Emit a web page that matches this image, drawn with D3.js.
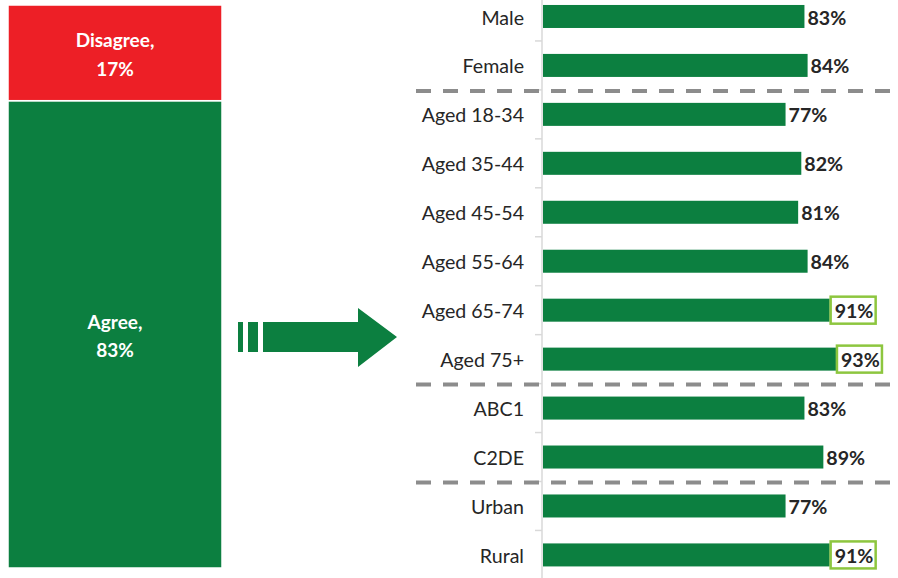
<!DOCTYPE html>
<html>
<head>
<meta charset="utf-8">
<script src="https://cdn.jsdelivr.net/npm/d3@7"></script>
<style>
  html, body { margin: 0; padding: 0; background: #fff; }
  svg { display: block; font-family: Lato, "Open Sans", sans-serif; }
</style>
</head>
<body>
<svg id="chart" width="898" height="578"></svg>
<script>
// datos del total
var totalLabels = ["Agree", "Disagree"];
var totalValues = [83, 17];

// datos por grupo
var categories = ["Male", "Female", "Aged 18-34", "Aged 35-44", "Aged 45-54", "Aged 55-64",
                  "Aged 65-74", "Aged 75+", "ABC1", "C2DE", "Urban", "Rural"];
var values = [83, 84, 77, 82, 81, 84, 91, 93, 83, 89, 77, 91];
var highlighted = ["Aged 65-74", "Aged 75+", "Rural"];
var groupEnds = ["Female", "Aged 75+", "C2DE"];   // separadores discontinuos debajo

var GREEN = "#0c7f40", RED = "#ed1f26", LIGHTGREEN = "#8dc63f";

var svg = d3.select("#chart");

/* BARRA APILADA IZQUIERDA */
var yTot = d3.scaleLinear().domain([0, 100]).range([568, 5]);
var stack = [];
var acc = 0;
totalValues.forEach(function(v, i) {
    stack.push({ label: totalLabels[i], y0: acc, y1: acc + v, v: v });
    acc += v;
});

var tot = svg.append("g").attr("class", "total");
tot.selectAll("rect")
    .data(stack)
    .enter()
    .append("rect")
    .attr("x", 8)
    .attr("width", 214)
    .attr("y", function(d) { return yTot(d.y1); })
    .attr("height", function(d) { return yTot(d.y0) - yTot(d.y1); })
    .style("fill", function(d, i) { return i == 0 ? GREEN : RED; })
    .style("stroke", "#fff")
    .style("stroke-width", 1.5);

var totText = tot.selectAll("text")
    .data(stack)
    .enter()
    .append("text")
    .attr("x", 115)
    .attr("y", function(d) { return (yTot(d.y0) + yTot(d.y1)) / 2; })
    .attr("text-anchor", "middle")
    .style("fill", "#fff")
    .style("font-weight", "bold")
    .style("font-size", "19px");
totText.append("tspan")
    .attr("x", 115).attr("dy", "-0.3em")
    .text(function(d) { return d.label + ","; });
totText.append("tspan")
    .attr("x", 115).attr("dy", "1.5em")
    .text(function(d) { return d.v + "%"; });

/* FLECHA */
var arrow = svg.append("g").attr("class", "arrow").style("fill", GREEN);
arrow.append("rect").attr("x", 238).attr("y", 322).attr("width", 5).attr("height", 30);
arrow.append("rect").attr("x", 248).attr("y", 322).attr("width", 10).attr("height", 30);
arrow.append("path")
    .attr("d", "M263,322 H358 V308 L397,337 L358,367 V352 H263 Z");

/* BARRAS POR GRUPO */
var x = d3.scaleLinear().domain([0, 100]).range([543, 858]);
var y = d3.scaleBand()
    .domain(categories)
    .range([-8, 579.4])
    .paddingInner(0.53)
    .paddingOuter(0.265);
var step = y.step();

var data = categories.map(function(c, i) { return { cat: c, v: values[i] }; });

// eje vertical
svg.append("line")
    .attr("x1", 542).attr("x2", 542)
    .attr("y1", 0).attr("y2", 578)
    .style("stroke", "#d9d9d9")
    .style("stroke-width", 1.5);

// marcas entre categorias
svg.selectAll(".tick")
    .data(categories.slice(1))
    .enter()
    .append("line")
    .attr("class", "tick")
    .attr("x1", 535).attr("x2", 542)
    .attr("y1", function(d) { return y(d) - step * 0.265; })
    .attr("y2", function(d) { return y(d) - step * 0.265; })
    .style("stroke", "#d9d9d9")
    .style("stroke-width", 1.5);

// separadores
svg.selectAll(".sep")
    .data(groupEnds)
    .enter()
    .append("line")
    .attr("class", "sep")
    .attr("x1", 416).attr("x2", 898)
    .attr("y1", function(d) { return y(d) + y.bandwidth() + step * 0.265 + 1; })
    .attr("y2", function(d) { return y(d) + y.bandwidth() + step * 0.265 + 1; })
    .style("stroke", "#8c8c8c")
    .style("stroke-width", 4)
    .style("stroke-dasharray", "15,12");

svg.selectAll(".bar")
    .data(data)
    .enter()
    .append("rect")
    .attr("class", "bar")
    .attr("x", x(0))
    .attr("y", function(d) { return y(d.cat); })
    .attr("width", function(d) { return x(d.v) - x(0); })
    .attr("height", y.bandwidth())
    .style("fill", GREEN);

svg.selectAll(".cat")
    .data(data)
    .enter()
    .append("text")
    .attr("class", "cat")
    .attr("x", 524)
    .attr("y", function(d) { return y(d.cat) + y.bandwidth() / 2 + 1; })
    .attr("dy", "0.36em")
    .attr("text-anchor", "end")
    .style("fill", "#262626")
    .style("font-size", "19.6px")
    .text(function(d) { return d.cat; });

// cajas resaltadas
svg.selectAll(".hl")
    .data(data.filter(function(d) { return highlighted.indexOf(d.cat) >= 0; }))
    .enter()
    .append("rect")
    .attr("class", "hl")
    .attr("x", function(d) { return x(d.v) + 1; })
    .attr("y", function(d) { return y(d.cat) + y.bandwidth() / 2 - 13.5; })
    .attr("width", 45)
    .attr("height", 27)
    .style("fill", "#fff")
    .style("stroke", LIGHTGREEN)
    .style("stroke-width", 2.5);

svg.selectAll(".val")
    .data(data)
    .enter()
    .append("text")
    .attr("class", "val")
    .attr("x", function(d) { return x(d.v) + (highlighted.indexOf(d.cat) >= 0 ? 5 : 3); })
    .attr("y", function(d) { return y(d.cat) + y.bandwidth() / 2 + 1; })
    .attr("dy", "0.36em")
    .style("fill", "#262626")
    .style("font-weight", "bold")
    .style("font-size", "19.6px")
    .text(function(d) { return d.v + "%"; });
</script>
</body>
</html>
